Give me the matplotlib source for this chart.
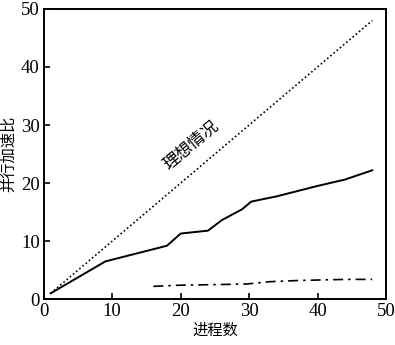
import matplotlib
matplotlib.use("Agg")
import matplotlib.pyplot as plt

ideal_x = [1, 48]
ideal_y = [1, 48]
par_x = [1, 9, 18, 20, 24, 26, 29, 30.3, 34, 40, 44, 48]
par_y = [1, 6.5, 9.2, 11.3, 11.8, 13.6, 15.5, 16.8, 17.7, 19.5, 20.6, 22.2]
low_x = [16, 20, 25, 29.6, 33, 37, 40.4, 44.3, 48]
low_y = [2.2, 2.4, 2.5, 2.6, 3.0, 3.2, 3.3, 3.4, 3.4]
xticks = [0, 10, 20, 30, 40, 50]
yticks = [0, 10, 20, 30, 40, 50]

plt.rcParams['font.family'] = ['Liberation Serif', 'Noto Sans CJK SC']
fig = plt.figure(figsize=(3.95, 3.45), dpi=100)
ax = fig.add_axes([0.111, 0.133, 0.866, 0.841])

ax.plot(ideal_x, ideal_y, color='black', linestyle=(0, (1, 1.5)), linewidth=1.2)
ax.plot(par_x, par_y, color='black', linestyle='-', linewidth=1.4)
ax.plot(low_x, low_y, color='black', linestyle=(0, (6, 3, 1.5, 3)), linewidth=1.2)

ax.set_xlim(0, 50)
ax.set_ylim(0, 50)
ax.set_xticks(xticks)
ax.set_yticks(yticks)
ax.tick_params(direction='in', length=4, width=1.2, labelsize=13.5, top=False, right=False, pad=3)
for s in ax.spines.values():
    s.set_linewidth(1.4)

ax.text(21.5, 26.5, '理想情况', rotation=40, ha='center', va='center',
        fontsize=12, family=['Noto Sans CJK SC'])
ax.set_xlabel('进程数', fontsize=11, family=['Noto Sans CJK SC'], labelpad=1)
ax.set_ylabel('并行加速比', fontsize=11, family=['Noto Sans CJK SC'], labelpad=3)

fig.savefig('out.png', dpi=100)
